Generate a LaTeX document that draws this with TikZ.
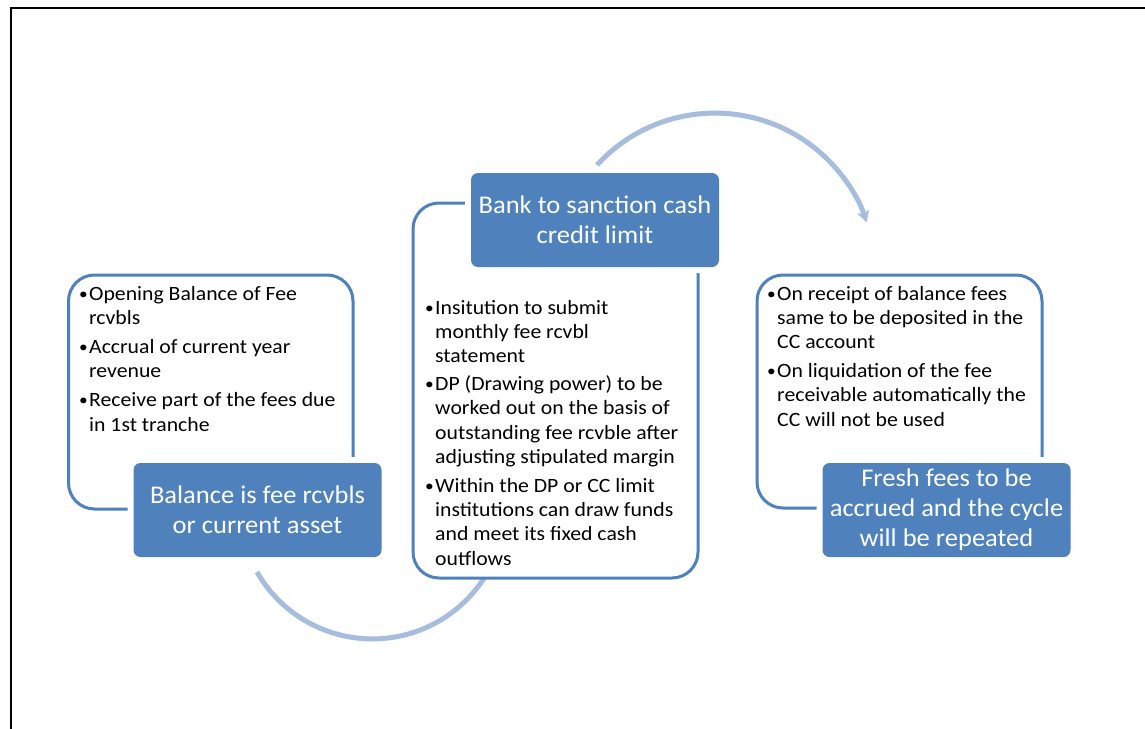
\documentclass[tikz,border=0pt]{standalone}
\usepackage{fontspec}
\setmainfont{Carlito}
\newfontfamily\listfont[FakeStretch=1.07]{Carlito}
\newfontfamily\titlefont[FakeStretch=1.04]{Carlito}
\usetikzlibrary{arrows.meta}

\definecolor{accent}{RGB}{79,129,189}
\definecolor{arcblue}{RGB}{167,189,222}

% bullet column of the lists
\newcommand{\bl}{\makebox[10pt][l]{\raisebox{1pt}{\scalebox{0.8}{\textbullet}}}}

\begin{document}
\begin{tikzpicture}[x=1pt,y=-1pt,
  panel/.style={draw=accent, line width=3pt, fill=white, rounded corners=26pt, inner sep=0pt},
  titlebox/.style={fill=accent, rounded corners=7pt, minimum width=248pt, minimum height=94pt,
    inner sep=0pt, align=center, text=white, font=\titlefont\fontsize{25.5}{30}\selectfont,
    preaction={draw=white, line width=12pt}},
  listtext/.style={anchor=base west, inner sep=0pt, font=\listfont\fontsize{20.3}{24.2}\selectfont, text=black},
  cyclearc/.style={draw=arcblue, line width=5pt},
]
\useasboundingbox (0,0) rectangle (1145,728);
\fill[white] (0,0) rectangle (1145,728);

% page frame
\draw[line width=2pt] (11,740) -- (11,7.8) -- (1150,7.8);

% cycle arcs
\coordinate (topArcStart) at (597,165);
\coordinate (bottomArcStart) at (257,572);
\draw[cyclearc, -{Stealth[length=11pt,width=12pt,inset=2pt]}]
  (topArcStart) arc[start angle=-137.5, end angle=-18.5, radius=160];
\draw[cyclearc] (bottomArcStart) arc[start angle=150.2, end angle=25, radius=133];

% outlined panels
\node[panel, minimum width=284.5pt, minimum height=234pt] (leftpanel) at (210.75,392) {};
\node[panel, minimum width=285pt, minimum height=375pt] (midpanel) at (555.5,390.5) {};
\node[panel, minimum width=285pt, minimum height=233pt] (rightpanel) at (899.5,391.5) {};

% title boxes
\node[titlebox] (balance) at (257.5,510) {Balance is fee rcvbls\\or current asset};
\node[titlebox] (bank) at (595,220) {Bank to sanction cash\\credit limit};
\node[titlebox] (fresh) at (946.5,510) {Fresh fees to be\\accrued and the cycle\\will be repeated};

% bullet lists
\node[listtext] (leftlist) at (79,300) {\begin{tabular}[t]{@{}l@{}l@{}}
\bl & Opening Balance of Fee\\
    & rcvbls\\[5pt]
\bl & Accrual of current year\\
    & revenue\\[5pt]
\bl & Receive part of the fees due\\
    & in 1st tranche
\end{tabular}};

\node[listtext] (midlist) at (425,314) {\begin{tabular}[t]{@{}l@{}l@{}}
\bl & Insitution to submit\\
    & monthly fee rcvbl\\
    & statement\\[4pt]
\bl & DP (Drawing power) to be\\
    & worked out on the basis of\\
    & outstanding fee rcvble after\\
    & adjusting stipulated margin\\[5pt]
\bl & Within the DP or CC limit\\
    & institutions can draw funds\\
    & and meet its fixed cash\\
    & outflows
\end{tabular}};

\node[listtext] (rightlist) at (767,300) {\begin{tabular}[t]{@{}l@{}l@{}}
\bl & On receipt of balance fees\\
    & same to be deposited in the\\
    & CC account\\[5pt]
\bl & On liquidation of the fee\\
    & receivable automatically the\\
    & CC will not be used
\end{tabular}};
\end{tikzpicture}
\end{document}
